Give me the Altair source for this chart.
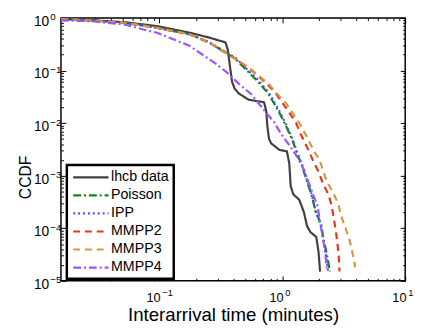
import altair as alt
import pandas as pd

series_names = ["lhcb data", "Poisson", "IPP", "MMPP2", "MMPP3", "MMPP4"]

lhcb_x = [0.0158, 0.0281, 0.0519, 0.0955, 0.176, 0.254, 0.345, 0.36, 0.375, 0.39, 0.41, 0.44, 0.53,
          0.636, 0.71, 0.74, 0.755, 0.764, 0.78, 0.813, 0.946, 1.09, 1.14, 1.17, 1.23, 1.37, 1.45,
          1.50, 1.59, 1.69, 1.89, 1.97, 2.03]
lhcb_y = [0.957, 0.906, 0.832, 0.70, 0.525, 0.424, 0.342, 0.25, 0.12, 0.061, 0.045, 0.037, 0.028,
          0.026, 0.025, 0.017, 0.009, 0.0071, 0.005, 0.0041, 0.0031, 0.0029, 0.0017, 6.3e-4, 4.4e-4,
          3.5e-4, 2.5e-4, 2.0e-4, 1.1e-4, 8.5e-5, 6.8e-5, 3.6e-5, 1.5e-5]

poisson_x = [0.0158, 0.0281, 0.0519, 0.0955, 0.176, 0.254, 0.325, 0.415, 0.53, 0.636, 0.764, 0.837,
             0.946, 1.07, 1.21, 1.32, 1.45, 1.59, 1.74, 1.86, 2.07, 2.16, 2.30, 2.44]
poisson_y = [0.95, 0.90, 0.81, 0.65, 0.49, 0.34, 0.239, 0.167, 0.094, 0.061, 0.037, 0.026,
             0.0158, 0.0089, 0.0047, 0.0026, 0.0015, 7.7e-4, 4.1e-4, 2.1e-4, 1.2e-4, 6.3e-5, 3.3e-5, 1.5e-5]

ipp_x = [0.0158, 0.0281, 0.0519, 0.0955, 0.176, 0.254, 0.325, 0.415, 0.53, 0.636, 0.764, 0.837,
         0.946, 1.07, 1.21, 1.32, 1.45, 1.59, 1.74, 1.86, 2.07, 2.16, 2.27, 2.36]
ipp_y = [0.95, 0.90, 0.81, 0.65, 0.49, 0.35, 0.245, 0.175, 0.10, 0.066, 0.040, 0.028,
         0.017, 0.0095, 0.005, 0.0028, 0.0016, 8.2e-4, 4.3e-4, 2.2e-4, 1.1e-4, 6.0e-5, 3.0e-5, 1.5e-5]

mmpp2_x = [0.0158, 0.0281, 0.0519, 0.0955, 0.176, 0.254, 0.305, 0.367, 0.469, 0.563, 0.741, 0.863,
           1.005, 1.14, 1.29, 1.41, 1.64, 1.80, 1.97, 2.13, 2.37, 2.52, 2.63, 2.73, 2.81, 2.88, 2.92]
mmpp2_y = [0.95, 0.90, 0.81, 0.65, 0.49, 0.34, 0.256, 0.207, 0.135, 0.101, 0.057, 0.040,
           0.024, 0.0158, 0.0102, 0.0062, 0.0030, 0.0018, 0.0012, 7.3e-4, 4.4e-4, 2.7e-4, 1.5e-4,
           8.7e-5, 5.1e-5, 2.9e-5, 1.5e-5]

mmpp3_x = [0.0158, 0.0281, 0.0519, 0.0955, 0.176, 0.254, 0.39, 0.514, 0.636, 0.788, 0.918, 1.07,
           1.37, 1.59, 1.80, 2.01, 2.30, 2.60, 2.85, 3.02, 3.28, 3.53, 3.70, 3.87, 3.91]
mmpp3_y = [0.95, 0.90, 0.81, 0.65, 0.49, 0.34, 0.179, 0.122, 0.082, 0.053, 0.035, 0.024,
           0.0102, 0.0054, 0.0030, 0.0020, 7.8e-4, 4.7e-4, 2.9e-4, 1.7e-4, 9.8e-5, 5.9e-5, 3.6e-5,
           2.2e-5, 1.8e-5]

mmpp4_x = [0.0158, 0.0281, 0.0519, 0.0795, 0.0955, 0.176, 0.287, 0.356, 0.454, 0.563, 0.719, 0.863,
           0.977, 1.14, 1.32, 1.50, 1.64, 1.80, 1.94, 2.03, 2.13, 2.23, 2.30]
mmpp4_y = [0.90, 0.868, 0.75, 0.58, 0.525, 0.296, 0.135, 0.091, 0.053, 0.035, 0.017, 0.0102,
           0.0062, 0.0038, 0.0023, 0.0013, 7.3e-4, 4.1e-4, 2.6e-4, 1.3e-4, 6.8e-5, 3.6e-5, 1.7e-5]

# tick values and tick labels (base 10 with a superscript exponent)
x_major = [0.1, 1, 10]
x_major_exp = ["\u22121", "0", "1"]
x_minor = [0.02, 0.03, 0.04, 0.05, 0.06, 0.07, 0.08, 0.09,
           0.2, 0.3, 0.4, 0.5, 0.6, 0.7, 0.8, 0.9,
           2, 3, 4, 5, 6, 7, 8, 9]
y_major = [1e-5, 1e-4, 1e-3, 1e-2, 1e-1, 1]
y_major_exp = ["\u22125", "\u22124", "\u22123", "\u22122", "\u22121", "0"]
y_minor = [m * d for d in [1e-5, 1e-4, 1e-3, 1e-2, 1e-1] for m in range(2, 10)]

series_colors = ["#404040", "#0a8a0a", "#4f4fff", "#e8341c", "#d09a40", "#9955ff"]
series_dashes = [[1, 0], [8, 3, 2, 3], [2, 3], [7, 5], [7, 5], [8, 3, 2, 3]]
series_widths = [2.2, 2.2, 1.3, 3.0, 1.5, 1.2]

all_series = [lhcb_x, lhcb_y, poisson_x, poisson_y, ipp_x, ipp_y,
              mmpp2_x, mmpp2_y, mmpp3_x, mmpp3_y, mmpp4_x, mmpp4_y]
rows = []
for k, name in enumerate(series_names):
    xs, ys = all_series[2 * k], all_series[2 * k + 1]
    for i, (xv, yv) in enumerate(zip(xs, ys)):
        rows.append({"series": name, "t": xv, "ccdf": yv, "idx": i})
df = pd.DataFrame(rows)

xlab_df = pd.DataFrame({"v": x_major, "base": ["10"] * len(x_major), "exp": x_major_exp})
ylab_df = pd.DataFrame({"v": y_major, "base": ["10"] * len(y_major), "exp": y_major_exp})

W, H = 351, 268
FONT = "Liberation Sans"
xscale = alt.Scale(type="log", domain=[0.0158, 10], nice=False)
yscale = alt.Scale(type="log", domain=[1e-5, 1], nice=False)

legend = alt.Legend(orient="none", legendX=6, legendY=150, title=None, symbolType="M-1,0H5",
                    symbolSize=144, labelFontSize=14.5, labelFont=FONT, labelColor="black",
                    strokeColor="black", fillColor="white", padding=5, rowPadding=3.4,
                    labelOffset=25)


def tick_axis(vals, orient, size):
    return alt.Axis(values=vals, orient=orient, labels=False, tickSize=alt.ExprRef(expr=str(-size)),
                    tickColor="black", tickWidth=1, domain=False, grid=False, title=None)


ax_x_major = alt.Axis(values=x_major, orient="bottom", labels=False, tickSize=alt.ExprRef(expr="-5"),
                      tickColor="black", domain=False, grid=False,
                      title="Interarrival time (minutes)", titleFont=FONT, titleFontSize=19,
                      titleFontWeight="normal", titleColor="black", titleY=40, titleBaseline="alphabetic")
ax_y_major = alt.Axis(values=y_major, orient="left", labels=False, tickSize=alt.ExprRef(expr="-5"),
                      tickColor="black", domain=False, grid=False,
                      title="CCDF", titleFont=FONT, titleFontSize=16, titleFontWeight="normal",
                      titleColor="black", titleX=-36, titleY=162, titleAngle=270, titleBaseline="middle")

base = alt.Chart(df)

lines = base.mark_line(clip=True, strokeCap="butt", strokeJoin="round").encode(
    x=alt.X("t:Q", scale=xscale, axis=ax_x_major),
    y=alt.Y("ccdf:Q", scale=yscale, axis=ax_y_major),
    color=alt.Color("series:N", scale=alt.Scale(domain=series_names, range=series_colors), legend=legend),
    strokeDash=alt.StrokeDash("series:N", scale=alt.Scale(domain=series_names, range=series_dashes), legend=legend),
    strokeWidth=alt.StrokeWidth("series:N", scale=alt.Scale(domain=series_names, range=series_widths), legend=legend),
    order="idx:Q",
)


def ghost(ax, ay):
    return base.mark_point(opacity=0).encode(
        x=alt.X("t:Q", scale=xscale, axis=ax),
        y=alt.Y("ccdf:Q", scale=yscale, axis=ay),
    )


xl = alt.Chart(xlab_df)
x_base_txt = xl.mark_text(align="right", baseline="alphabetic", dx=1.3, fontSize=13, font=FONT,
                          color="black").encode(
    x=alt.X("v:Q", scale=xscale, axis=None), y=alt.value(H + 22), text="base:N")
x_exp_txt = xl.mark_text(align="left", baseline="alphabetic", dx=3, fontSize=9.5, font=FONT,
                         color="black").encode(
    x=alt.X("v:Q", scale=xscale, axis=None), y=alt.value(H + 15), text="exp:N")

yl = alt.Chart(ylab_df)
y_base_txt = yl.mark_text(align="right", baseline="alphabetic", dy=8, fontSize=14, font=FONT,
                          color="black").encode(
    x=alt.value(-12), y=alt.Y("v:Q", scale=yscale, axis=None), text="base:N")
y_exp_txt = yl.mark_text(align="left", baseline="alphabetic", dy=2.5, fontSize=10, font=FONT,
                         color="black").encode(
    x=alt.value(-11), y=alt.Y("v:Q", scale=yscale, axis=None), text="exp:N")

chart = alt.layer(
    lines,
    ghost(tick_axis(x_minor, "bottom", 2.5), tick_axis(y_minor, "left", 2.5)),
    ghost(tick_axis(x_major, "top", 5), tick_axis(y_major, "right", 5)),
    ghost(tick_axis(x_minor, "top", 2.5), tick_axis(y_minor, "right", 2.5)),
    x_base_txt, x_exp_txt, y_base_txt, y_exp_txt,
).resolve_axis(x="independent", y="independent").properties(
    width=W, height=H,
    autosize=alt.AutoSizeParams(type="none"),
    padding={"left": 54, "top": 7, "right": 10, "bottom": 48},
).configure_view(stroke="black", strokeWidth=1.5).configure_axis(tickWidth=1).configure_legend(strokeWidth=2.5)

chart.save("out.html", embed_options={"renderer": "svg", "actions": False})
